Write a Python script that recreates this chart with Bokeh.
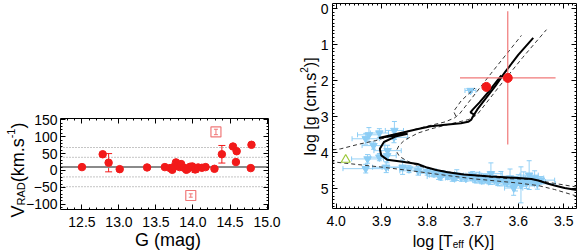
import math
from bokeh.plotting import figure
from bokeh.models import (Range1d, LinearAxis, Label, Whisker, ColumnDataSource,
                          FixedTicker, TeeHead, NumeralTickFormatter)
from bokeh.layouts import row, column
from bokeh.embed import file_html
from bokeh.resources import INLINE

FONT = "Liberation Sans"

# ---------------- Left panel data: radial velocity vs G ----------------
g_mag = [12.50, 12.78, 12.86, 13.01, 13.38, 13.62, 13.69, 13.72, 13.75, 13.77,
         13.80, 13.82, 13.84, 13.88, 13.91, 13.93, 13.96, 13.99, 14.03, 14.07,
         14.12, 14.17, 14.29, 14.39, 14.54, 14.59, 14.58, 14.79, 14.78]
v_rad = [10, 48, 23, 4, 9, 10, 7, 2, 12, 24,
         15, 10, 19, 8, 2, 5, 11, 12, 3, 9,
         8, 10, 5, 48, 71, 57, 25, 76, 7]
g_err_pts = [12.86, 14.39, 14.03]
v_err_pts = [23, 48, 3]
v_err = [27, 26, 9]
g_out = [14.31, 13.97]          # open squares (rejected)
v_out = [114, -74]
v_out_err = [8, 5]
v_mean = 10
v_dotted = [39, -19, 68, -48]
left_xlim = (12.21, 15.02)
left_ylim = (-115.4, 153.8)
left_xticks = [12.5, 13.0, 13.5, 14.0, 14.5, 15.0]
left_yticks = [-100, -50, 0, 50, 100, 150]

# ---------------- Right panel data: Kiel diagram ----------------
blue_t = [3.935, 3.928, 3.905, 3.872, 3.873, 3.918, 3.887, 3.905, 3.931, 3.888,
          3.935, 3.890, 3.854, 3.840, 3.820, 3.800, 3.705,
          3.785, 3.775, 3.765, 3.755, 3.745, 3.735, 3.725, 3.715, 3.705, 3.695,
          3.688, 3.680, 3.672, 3.665, 3.660, 3.652, 3.645, 3.638, 3.632, 3.625,
          3.618, 3.612, 3.606, 3.600, 3.594, 3.588, 3.582, 3.576, 3.570, 3.564,
          3.558, 3.550, 3.610, 3.700, 3.740, 3.770]
blue_g = [3.61, 3.50, 3.45, 3.38, 3.57, 3.80, 3.94, 4.12, 4.17, 4.08,
          4.44, 4.40, 4.40, 4.45, 4.50, 4.52, 2.27,
          4.57, 4.62, 4.58, 4.64, 4.67, 4.62, 4.69, 4.71, 4.66, 4.73,
          4.69, 4.76, 4.72, 4.78, 4.58, 4.75, 4.81, 4.72, 4.77, 4.83,
          4.70, 4.79, 4.86, 4.76, 4.89, 4.73, 4.84, 4.62, 4.80, 4.70,
          4.86, 4.76, 4.98, 4.62, 4.70, 4.66]
blue_et = [0.030, 0.025, 0.020, 0.020, 0.030, 0.025, 0.030, 0.020, 0.035, 0.020,
           0.050, 0.030, 0.045, 0.020, 0.040, 0.020, 0.012,
           0.030, 0.020, 0.025, 0.020, 0.030, 0.020, 0.025, 0.020, 0.030, 0.020,
           0.025, 0.020, 0.030, 0.020, 0.025, 0.020, 0.030, 0.020, 0.025, 0.020,
           0.030, 0.020, 0.025, 0.050, 0.030, 0.020, 0.025, 0.020, 0.030, 0.020,
           0.040, 0.030, 0.020, 0.020, 0.020, 0.030]
blue_eg = [0.15, 0.20, 0.12, 0.25, 0.15, 0.10, 0.15, 0.10, 0.12, 0.20,
           0.12, 0.15, 0.20, 0.10, 0.12, 0.10, 0.05,
           0.10, 0.12, 0.08, 0.10, 0.12, 0.15, 0.10, 0.08, 0.12, 0.10,
           0.15, 0.10, 0.12, 0.08, 0.30, 0.12, 0.10, 0.20, 0.12, 0.10,
           0.25, 0.12, 0.20, 0.15, 0.50, 0.20, 0.15, 0.40, 0.12, 0.20,
           0.15, 0.10, 0.20, 0.10, 0.08, 0.10]
red_t = [3.670, 3.623]
red_g = [2.17, 1.92]
red_big_et = 0.105
red_big_eg = 1.85
green_t = [3.979]
green_g = [4.19]

iso_t = [3.472, 3.498, 3.520, 3.534, 3.556, 3.571, 3.600, 3.630, 3.660, 3.689,
         3.720, 3.755, 3.780, 3.800, 3.821, 3.858, 3.888, 3.901, 3.904, 3.895,
         3.870, 3.843, 3.875, 3.906, 3.880, 3.851, 3.820, 3.792, 3.760, 3.726,
         3.710, 3.703, 3.700, 3.695, 3.689, 3.670, 3.650, 3.629, 3.600, 3.567]
iso_g = [5.03, 4.98, 4.91, 4.86, 4.77, 4.73, 4.70, 4.68, 4.66, 4.63,
         4.60, 4.54, 4.48, 4.41, 4.31, 4.24, 4.19, 4.07, 3.89, 3.70,
         3.55, 3.47, 3.53, 3.59, 3.51, 3.43, 3.34, 3.26, 3.22, 3.18,
         3.14, 3.08, 3.00, 2.90, 2.78, 2.47, 2.14, 1.76, 1.28, 0.81]
iso2_t = [3.695, 3.705, 3.700, 3.685, 3.665, 3.637]
iso2_g = [2.95, 2.88, 2.80, 2.60, 2.30, 1.85]

dA1_t = [3.472, 3.520, 3.556, 3.600, 3.650, 3.700, 3.750, 3.787, 3.840, 3.898, 3.950, 4.008]
dA1_g = [5.20, 5.02, 4.91, 4.84, 4.78, 4.72, 4.64, 4.58, 4.49, 4.40, 4.33, 4.25]
dA2_t = [4.008, 3.990, 3.950, 3.913, 3.858, 3.800, 3.760, 3.740, 3.729, 3.700, 3.660, 3.593]
dA2_g = [3.92, 3.89, 3.76, 3.66, 3.45, 3.26, 3.14, 3.03, 2.92, 2.45, 1.80, 0.74]
dA3_t = [3.737, 3.742, 3.725, 3.695]
dA3_g = [2.98, 2.85, 2.55, 2.20]
dB_t = [3.472, 3.520, 3.567, 3.620, 3.677, 3.730, 3.787, 3.820, 3.845, 3.861, 3.868,
        3.862, 3.850, 3.835, 3.820, 3.790, 3.750, 3.710, 3.695, 3.689, 3.640, 3.590, 3.538]
dB_g = [4.95, 4.85, 4.74, 4.72, 4.66, 4.58, 4.46, 4.36, 4.22, 4.10, 3.95,
        3.80, 3.65, 3.55, 3.45, 3.33, 3.20, 3.08, 2.98, 2.92, 2.13, 1.35, 0.58]

right_xlim = (4.008, 3.472)
right_ylim = (5.547, -0.147)
right_xticks = [4.0, 3.9, 3.8, 3.7, 3.6, 3.5]
right_yticks = [0, 1, 2, 3, 4, 5]

RED = "#F21A1A"
PINK = "#F07878"
BLUE = "#8CCDF5"

# ---------------- layout geometry (page pixels, page has no margin) ----------------
L_CANVAS = (0, 290, 0, 250)      # left, right, top, bottom
L_BOX = (60, 268, 118, 209)
R_CANVAS = (290, 581, 0, 250)
R_BOX = (332, 576, 3, 208)


def frange(a, b, step):
    n = int(round((b - a) / step))
    return [round(a + i * step, 4) for i in range(n + 1)]


def ext(v_a, v_b, p_a, p_b, p):
    return v_a + (p - p_a) * (v_b - v_a) / (p_b - p_a)


def make_fig(canvas, box, xlim, ylim):
    cl, cr, ct, cb = canvas
    bl, br, bt, bb = box
    xr = Range1d(start=ext(xlim[0], xlim[1], bl, br, cl), end=ext(xlim[0], xlim[1], bl, br, cr))
    yr = Range1d(start=ext(ylim[0], ylim[1], bb, bt, cb), end=ext(ylim[0], ylim[1], bb, bt, ct))
    p = figure(width=cr - cl, height=cb - ct, x_range=xr, y_range=yr,
               output_backend="svg", toolbar_location=None,
               x_axis_location=None, y_axis_location=None,
               min_border=0, min_border_left=0, min_border_right=0,
               min_border_top=0, min_border_bottom=0)
    p.xgrid.visible = False
    p.ygrid.visible = False
    p.outline_line_color = None
    p.background_fill_color = "white"
    p.border_fill_color = "white"
    return p


def add_axis(p, side, loc, bounds, ticks, minor, labels=True, fmt=None, standoff=6):
    ax = LinearAxis(fixed_location=loc, bounds=bounds)
    ax.ticker = FixedTicker(ticks=ticks, minor_ticks=minor)
    ax.major_tick_in = 5
    ax.major_tick_out = 0
    ax.minor_tick_in = 2
    ax.minor_tick_out = 0
    ax.axis_line_color = "black"
    ax.axis_line_width = 1
    ax.major_tick_line_color = "black"
    ax.minor_tick_line_color = "black"
    ax.major_label_text_font = FONT
    if fmt is not None:
        ax.formatter = fmt
    if labels:
        ax.major_label_text_font_size = "14px"
        ax.major_label_text_color = "black"
        ax.major_label_standoff = standoff
    else:
        ax.major_label_overrides = {t: "" for t in ticks}
        ax.major_label_standoff = 0
        ax.major_label_text_font_size = "1px"
    p.add_layout(ax, side)


def boxed_axes(p, xlim, ylim, xt, xm, yt, ym, xfmt=None, xso=7, yso=4):
    xb = (min(xlim), max(xlim))
    yb = (min(ylim), max(ylim))
    add_axis(p, "below", ylim[0], xb, xt, xm, fmt=xfmt, standoff=xso)
    add_axis(p, "above", ylim[1], xb, xt, xm, labels=False)
    add_axis(p, "left", xlim[0], yb, yt, ym, standoff=yso)
    add_axis(p, "right", xlim[1], yb, yt, ym, labels=False)


def lab(p, canvas, px, py, text, size, angle=0.0, align="left"):
    p.add_layout(Label(x=px - canvas[0], y=canvas[3] - py, x_units="screen", y_units="screen",
                       text=text, text_font=FONT, text_font_size=size, text_color="black",
                       angle=angle, text_align=align, text_baseline="alphabetic"))


A = math.pi / 2

# ================= LEFT FIGURE =================
lp = make_fig(L_CANVAS, L_BOX, left_xlim, left_ylim)
boxed_axes(lp, left_xlim, left_ylim, left_xticks, frange(12.3, 15.0, 0.1),
           left_yticks, frange(-110, 150, 10), xfmt=NumeralTickFormatter(format="0.0"),
           xso=7, yso=3)

n_d = len(v_dotted)
lp.segment([left_xlim[0]] * n_d, v_dotted, [left_xlim[1]] * n_d, v_dotted,
           line_color="#8A8A8A", line_width=1, line_dash="1 2")
lp.segment([left_xlim[0]], [v_mean], [left_xlim[1]], [v_mean],
           line_color="#8A8A8A", line_width=2)

err_src = ColumnDataSource(dict(x=g_err_pts, lo=[v - e for v, e in zip(v_err_pts, v_err)],
                                hi=[v + e for v, e in zip(v_err_pts, v_err)]))
lp.add_layout(Whisker(source=err_src, base="x", lower="lo", upper="hi", dimension="height",
                      line_color=RED, line_width=1,
                      upper_head=TeeHead(size=7, line_color=RED, line_width=1),
                      lower_head=TeeHead(size=7, line_color=RED, line_width=1)))
out_src = ColumnDataSource(dict(x=g_out, lo=[v - e for v, e in zip(v_out, v_out_err)],
                                hi=[v + e for v, e in zip(v_out, v_out_err)]))
lp.add_layout(Whisker(source=out_src, base="x", lower="lo", upper="hi", dimension="height",
                      line_color=PINK, line_width=1,
                      upper_head=TeeHead(size=4, line_color=PINK, line_width=1),
                      lower_head=TeeHead(size=4, line_color=PINK, line_width=1)))
lp.scatter(g_out, v_out, marker="square", size=10, fill_color=None,
           line_color=PINK, line_width=1.2)
lp.scatter(g_mag, v_rad, marker="circle", size=7.5, fill_color=RED, line_color=RED)

lab(lp, L_CANVAS, 167.5, 239, "G (mag)", "18px", align="center")
lab(lp, L_CANVAS, 17, 217, "V", "18px", angle=A)
lab(lp, L_CANVAS, 20, 205, "RAD", "11px", angle=A)
lab(lp, L_CANVAS, 17, 181.8, "(km.s", "18px", angle=A)
lab(lp, L_CANVAS, 10, 137.8, "-1", "11px", angle=A)
lab(lp, L_CANVAS, 17, 128, ")", "18px", angle=A)

# ================= RIGHT FIGURE =================
rp = make_fig(R_CANVAS, R_BOX, right_xlim, right_ylim)
boxed_axes(rp, right_xlim, right_ylim, right_xticks, frange(3.48, 4.0, 0.01),
           right_yticks, frange(-0.1, 5.5, 0.1), xfmt=NumeralTickFormatter(format="0.0"),
           xso=7, yso=4)

bsrc = ColumnDataSource(dict(
    t=blue_t, g=blue_g,
    tl=[t - e for t, e in zip(blue_t, blue_et)], tu=[t + e for t, e in zip(blue_t, blue_et)],
    gl=[g - e for g, e in zip(blue_g, blue_eg)], gu=[g + e for g, e in zip(blue_g, blue_eg)]))
rp.add_layout(Whisker(source=bsrc, base="t", lower="gl", upper="gu", dimension="height",
                      line_color=BLUE, line_width=1, line_alpha=0.9,
                      upper_head=TeeHead(size=5, line_color=BLUE, line_width=1),
                      lower_head=TeeHead(size=5, line_color=BLUE, line_width=1)))
rp.add_layout(Whisker(source=bsrc, base="g", lower="tl", upper="tu", dimension="width",
                      line_color=BLUE, line_width=1, line_alpha=0.9,
                      upper_head=TeeHead(size=5, line_color=BLUE, line_width=1),
                      lower_head=TeeHead(size=5, line_color=BLUE, line_width=1)))
rp.scatter("t", "g", source=bsrc, marker="inverted_triangle", size=7.5,
           fill_color=BLUE, line_color=BLUE)

for tx, gy in [(dA1_t, dA1_g), (dA2_t, dA2_g), (dA3_t, dA3_g), (dB_t, dB_g)]:
    rp.line(tx, gy, line_color="#333333", line_width=1, line_dash="4 3")
rp.line(iso_t, iso_g, line_color="black", line_width=2)
rp.line(iso2_t, iso2_g, line_color="black", line_width=2)

rp.segment([red_t[1] - red_big_et], [red_g[1]], [red_t[1] + red_big_et], [red_g[1]],
           line_color=PINK, line_width=1.2)
rp.segment([red_t[1]], [red_g[1] - red_big_eg], [red_t[1]], [red_g[1] + red_big_eg],
           line_color=PINK, line_width=1.2)
rp.scatter(red_t, red_g, marker="circle", size=9, fill_color=RED, line_color=RED)
rp.scatter(green_t, green_g, marker="triangle", size=9, fill_color=None,
           line_color="#9CC83A", line_width=1.2)

lab(rp, R_CANVAS, 412.3, 241, "log [T", "16px")
lab(rp, R_CANVAS, 452.3, 244, "eff", "10px")
lab(rp, R_CANVAS, 467.8, 241, "(K)]", "16px")
lab(rp, R_CANVAS, 310, 155, "log [g (cm.s", "16px", angle=A)
lab(rp, R_CANVAS, 303, 72.3, "2", "10px", angle=A)
lab(rp, R_CANVAS, 310, 66.7, ")]", "16px", angle=A)

layout = row(column(lp), column(rp))
open("out.html", "w").write(file_html(layout, INLINE))
